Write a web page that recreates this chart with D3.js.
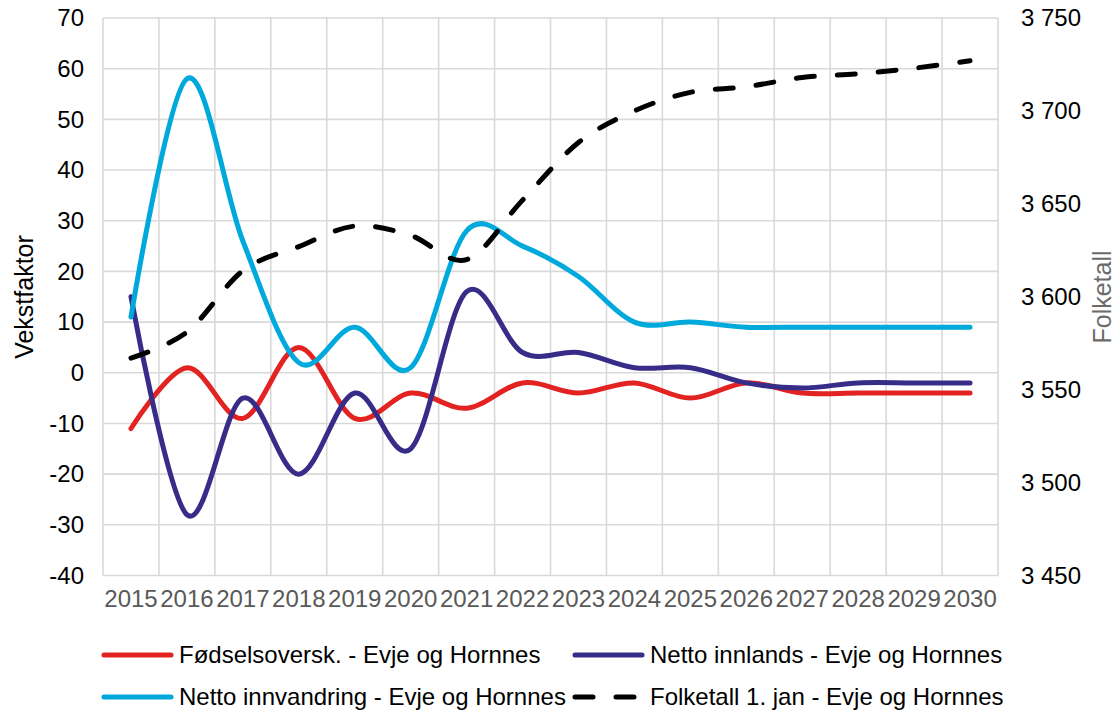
<!DOCTYPE html>
<html><head><meta charset="utf-8">
<script src="https://cdn.jsdelivr.net/npm/d3@7/dist/d3.min.js"></script>
<style>
body{margin:0;background:#fff}
svg{display:block}
text{font-family:"Liberation Sans",Arial,sans-serif}
</style>
</head><body>
<svg id="chart" width="1120" height="711"></svg>
<script>
const years = [2015,2016,2017,2018,2019,2020,2021,2022,2023,2024,2025,2026,2027,2028,2029,2030];
const fodselsoverskudd = [-11, 1, -9, 5, -9, -4, -7, -2, -4, -2, -5, -2, -4, -4, -4, -4];
const nettoInnlands = [15, -28, -5, -20, -4, -15, 16, 4, 4, 1, 1, -2, -3, -2, -2, -2];
const nettoInnvandring = [11, 58, 26, 2, 9, 1, 28, 25, 19, 10, 10, 9, 9, 9, 9, 9];
const folketall = [3567, 3581, 3614, 3627, 3638, 3633, 3620, 3652, 3683, 3700, 3710, 3713, 3718, 3720, 3723, 3727];
const leftTicks = [-40,-30,-20,-10,0,10,20,30,40,50,60,70];
const rightTicks = [3450,3500,3550,3600,3650,3700,3750];
const seriesNames = ["Fødselsoversk. - Evje og Hornnes","Netto innlands - Evje og Hornnes","Netto innvandring - Evje og Hornnes","Folketall 1. jan - Evje og Hornnes"];
const colors = ["#E32322","#372C88","#00A9DB","#000000"];

const svg = d3.select("#chart");
const L = 103, R = 998, T = 18, B = 575.5;
const x = d3.scaleBand().domain(years).range([L, R]);
const y = d3.scaleLinear().domain([-40, 70]).range([B, T]);
const y2 = d3.scaleLinear().domain([3450, 3750]).range([B, T]);
const nb = d3.formatLocale({decimal:",", thousands:" ", grouping:[3], currency:["",""], minus:"-"});
const fmt2 = nb.format(",d");
const fmt1 = nb.format("d");

// gridlines
const grid = svg.append("g").attr("stroke", "#d9d9d9").attr("stroke-width", 1.6);
grid.selectAll("line.h").data(leftTicks).join("line")
  .attr("x1", L).attr("x2", R).attr("y1", d => y(d)).attr("y2", d => y(d));
const bounds = years.map(d => x(d)).concat([R]);
grid.selectAll("line.v").data(bounds).join("line")
  .attr("x1", d => d).attr("x2", d => d).attr("y1", T).attr("y2", B);

// axes (labels only)
const fs = 24;
const ff = '"Liberation Sans",Arial,sans-serif';
const gl = svg.append("g").attr("transform", `translate(${L - 19},0)`)
  .call(d3.axisLeft(y).tickValues(leftTicks).tickSize(0).tickPadding(0).tickFormat(fmt1));
gl.select(".domain").remove();
gl.selectAll("text").attr("font-size", fs).attr("fill", "#000").attr("font-family", ff);

const gr = svg.append("g").attr("transform", `translate(1021,0)`)
  .call(d3.axisRight(y2).tickValues(rightTicks).tickSize(0).tickPadding(0).tickFormat(fmt2));
gr.select(".domain").remove();
gr.selectAll("text").attr("font-size", fs).attr("fill", "#000").attr("font-family", ff);

const gx = svg.append("g").attr("transform", `translate(0,${B + 14})`)
  .call(d3.axisBottom(x).tickSize(0).tickPadding(0));
gx.select(".domain").remove();
gx.selectAll("text").attr("font-size", fs).attr("fill", "#595959").attr("font-family", ff);

// axis titles
svg.append("text").attr("transform", "translate(33,297) rotate(-90)")
  .attr("text-anchor", "middle").attr("font-size", 25).attr("fill", "#000").text("Vekstfaktor");
svg.append("text").attr("transform", "translate(1111,297) rotate(-90)")
  .attr("text-anchor", "middle").attr("font-size", 25).attr("fill", "#6b6b6b").text("Folketall");

// lines
const cx = d => x(d) + x.bandwidth() / 2;
const curve = d3.curveCardinal.tension(0);
const mk = (vals, sc) => d3.line().curve(curve).x((d, i) => cx(years[i])).y(d => sc(d))(vals);
const plot = svg.append("g").attr("fill", "none").attr("stroke-width", 5).attr("stroke-linecap", "round").attr("stroke-linejoin", "round");
plot.append("path").attr("d", mk(fodselsoverskudd, y)).attr("stroke", colors[0]);
plot.append("path").attr("d", mk(nettoInnlands, y)).attr("stroke", colors[1]);
plot.append("path").attr("d", mk(nettoInnvandring, y)).attr("stroke", colors[2]);
plot.append("path").attr("d", mk(folketall, y2)).attr("stroke", colors[3]).attr("stroke-dasharray", "18,23");

// legend
const legendItems = [
  {i:0, lx:102, ly:655, tx:179},
  {i:1, lx:573, ly:655, tx:650},
  {i:2, lx:102, ly:697, tx:179},
  {i:3, lx:573, ly:697, tx:650}
];
const lg = svg.append("g");
legendItems.forEach(it => {
  const ln = lg.append("line").attr("x1", it.lx + 2).attr("x2", it.lx + 69).attr("y1", it.ly).attr("y2", it.ly)
    .attr("stroke", colors[it.i]).attr("stroke-width", 5).attr("stroke-linecap", "round");
  if (it.i === 3) ln.attr("stroke-dasharray", "18,23");
  lg.append("text").attr("x", it.tx).attr("y", it.ly).attr("dy", "0.35em").attr("font-size", fs)
    .attr("fill", "#000").text(seriesNames[it.i]);
});
</script>
</body></html>
